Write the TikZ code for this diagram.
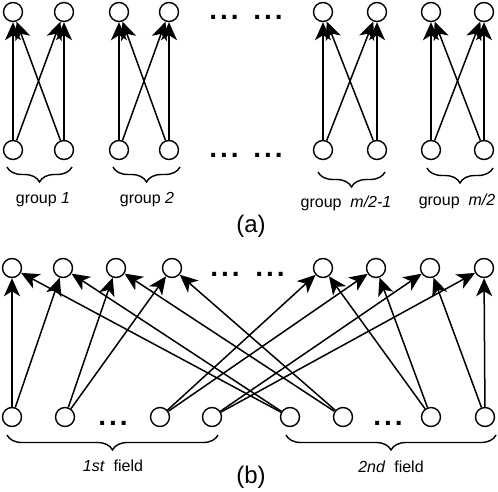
\documentclass[tikz,border=0pt]{standalone}
\usepackage{fontspec}
\setmainfont{Liberation Sans}
\usetikzlibrary{arrows.meta,decorations.pathreplacing}
\tikzset{>={Stealth[length=18pt,width=16pt,inset=5pt]}}
\begin{document}
\begin{tikzpicture}[x=1pt,y=-1pt,
  nd/.style={circle,draw,line width=1.4pt,minimum size=19pt,inner sep=0pt},
  ar/.style={line width=1.5pt,->},
  br/.style={line width=1.4pt,decorate,decoration={brace,mirror,amplitude=15pt,aspect=0.5}},
  lab/.style={font=\fontsize{16}{19}\selectfont,inner sep=0pt},
  captxt/.style={font=\fontsize{24}{28}\selectfont,inner sep=0pt},
  dotstxt/.style={font=\fontsize{28}{28}\selectfont\bfseries,inner sep=0pt}]
\useasboundingbox (0,0) rectangle (498,492);
% ---------- (a) ----------
\foreach \i/\x in {1/13,2/64,3/119,4/169,5/323,6/377,7/431,8/484}{
  \node[nd] (ta\i) at (\x,12) {};
  \node[nd] (ba\i) at (\x,150) {};
}
\foreach \l/\r in {1/2,3/4,5/6,7/8}{
  \draw[ar] (ba\l) -- (ta\l);
  \draw[ar] (ba\l) -- (ta\r);
  \draw[ar] (ba\r) -- (ta\r);
  \draw[ar] (ba\r) -- (ta\l);
}
\node[dotstxt] (da1) at (224,17) {.\kern3pt.\kern3pt.};
\node[dotstxt] (da2) at (268,17) {.\kern3pt.\kern3pt.};
\node[dotstxt] (da3) at (224,155) {.\kern3pt.\kern3pt.};
\node[dotstxt] (da4) at (268,155) {.\kern3pt.\kern3pt.};
\draw[br] (7,167) -- (72,167);
\draw[br] (113,167) -- (180,167);
\draw[br] (318,172) -- (385,172);
\draw[br] (427,168) -- (493,168);
\node[lab] (ga1) at (43,200) {group \textit{1}};
\node[lab] (ga2) at (147,200) {group \textit{2}};
\node[lab] (ga3) at (346,203) {group\ \ \textit{m/2-1}};
\node[lab] (ga4) at (457,201) {group\ \ \textit{m/2}};
\node[captxt] (capa) at (251,226) {(a)};
% ---------- (b) ----------
\foreach \i/\x in {1/12,2/63,3/116,4/172,5/323,6/376,7/430,8/484}{
  \node[nd] (tb\i) at (\x,268) {};
}
\foreach \i/\x in {1/12,2/65,3/160,4/212,5/290,6/343,7/431,8/485}{
  \node[nd] (bb\i) at (\x,417) {};
}
\foreach \b/\p/\q in {1/1/2,2/3/4,3/5/6,4/7/8,5/1/2,6/3/4,7/5/6,8/7/8}{
  \draw[ar] (bb\b) -- (tb\p);
  \draw[ar] (bb\b) -- (tb\q);
}
\node[dotstxt] (db1) at (225,274) {.\kern3pt.\kern3pt.};
\node[dotstxt] (db2) at (270,274) {.\kern3pt.\kern3pt.};
\node[dotstxt] (db3) at (113,423) {.\kern3pt.\kern3pt.};
\node[dotstxt] (db4) at (388,423) {.\kern3pt.\kern3pt.};
\draw[br] (7,435) -- (218,435);
\draw[br] (286,435) -- (496,435);
\node[lab] (fb1) at (113,466) {\textit{1st}\ \ field};
\node[lab] (fb2) at (391,467) {\textit{2nd}\ \ field};
\node[captxt] (capb) at (251,477) {(b)};
\end{tikzpicture}
\end{document}
